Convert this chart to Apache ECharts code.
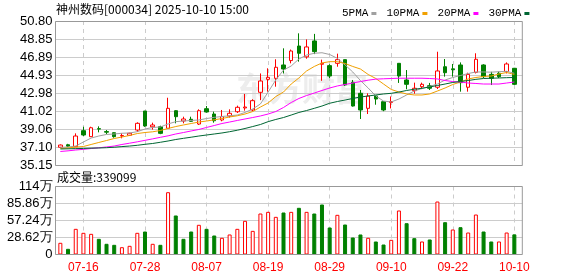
<!DOCTYPE html>
<html><head><meta charset="utf-8">
<script src="https://cdn.jsdelivr.net/npm/echarts@6/dist/echarts.min.js"></script>
<style>html,body{margin:0;padding:0;background:#fff}#c{width:578px;height:276px}</style>
</head><body><div id="c"></div>
<script>
const dates = ['07-11','07-14','07-15','07-16','07-17','07-18','07-21','07-22','07-23','07-24','07-25','07-28','07-29','07-30','07-31','08-01','08-04','08-05','08-06','08-07','08-08','08-11','08-12','08-13','08-14','08-15','08-18','08-19','08-20','08-21','08-22','08-25','08-26','08-27','08-28','08-29','09-01','09-02','09-03','09-04','09-05','09-08','09-09','09-10','09-11','09-12','09-15','09-16','09-17','09-18','09-19','09-22','09-23','09-24','09-25','09-26','09-29','09-30','10-09','10-10'];
const opens = [37.08,37.35,37.14,38.88,38.23,39.1,38.78,38.66,38.3,38.38,38.95,41.02,39.3,39.31,39.14,41.05,39.93,40.12,39.6,41.27,40.69,40.04,40.47,40.94,41.35,41.13,43.05,44.46,44.57,46.02,46.5,48.08,46.9,48.63,46.1,45.95,46.2,46.6,44.14,42.94,41.31,42.65,42.03,41.95,46.2,44.39,43.23,43.66,43.77,43.6,45.83,45.6,46.02,43.6,45.22,46.02,45.0,45.12,45.3,45.66];
const closes = [37.32,37.2,38.30,38.41,39.20,39.05,38.72,38.23,38.35,38.6,39.68,39.39,39.5,38.59,41.31,40.4,40.15,39.9,41.05,40.91,39.96,40.40,40.77,41.42,41.45,42.14,44.28,44.68,45.77,45.58,47.54,47.29,47.98,47.47,46.2,44.82,46.6,43.85,41.56,41.13,42.65,42.32,41.13,42.05,44.82,43.92,43.49,43.92,43.49,45.37,45.18,45.5,44.1,45.0,46.64,44.75,44.57,44.75,46.13,43.92];
const lows = [37.0,37.1,37.1,38.3,38.2,38.7,38.5,38.12,38.05,38.3,38.74,39.3,39.0,38.5,39.1,39.68,39.68,39.85,39.5,40.85,39.75,39.9,40.3,40.8,41.05,41.0,42.2,43.12,43.66,45.1,46.2,46.38,46.7,47.2,44.3,44.6,45.83,43.74,41.5,40.15,40.69,41.7,41.0,41.3,44.07,43.38,42.9,43.4,43.3,43.41,44.75,44.75,43.12,43.12,45.1,44.6,43.84,44.6,45.1,43.84];
const highs = [37.38,37.45,38.59,39.31,39.31,39.35,38.95,38.7,38.6,38.65,39.79,41.02,39.75,39.42,42.46,41.1,40.4,40.4,41.2,41.56,40.95,41.13,41.2,41.6,42.87,42.3,45.1,45.66,46.64,47.83,47.7,49.46,48.8,49.4,46.6,46.1,47.25,46.6,44.39,43.3,42.94,42.7,42.1,42.6,46.2,45.47,44.1,44.1,44.07,47.46,46.67,46.13,46.3,45.18,47.29,46.1,45.28,45.3,46.3,45.7];
const volumes = [197000,96000,432000,365000,348000,264000,180000,163000,123000,146000,365000,387000,180000,163000,1049000,657000,264000,387000,500000,432000,320000,281000,337000,432000,567000,398000,690000,718000,634000,707000,718000,786000,718000,690000,842000,455000,668000,505000,286000,337000,281000,219000,168000,247000,741000,527000,275000,219000,253000,892000,544000,421000,460000,370000,673000,387000,219000,219000,370000,339099];
const ma5 = [37.07,37.1,37.21,37.65,38.08,38.3,38.47,38.52,38.6,38.63,38.77,39.06,39.23,39.28,39.61,39.86,39.93,39.99,40.04,40.2,40.33,40.42,40.5,40.58,40.86,41.24,41.78,43.08,44.39,45.47,45.91,46.67,47.1,47.29,47.35,47.16,46.74,46.02,45.26,44.33,43.52,42.65,42.1,42.0,42.32,42.76,43.19,43.47,43.69,43.95,44.39,44.66,44.88,45.09,45.26,45.26,45.24,45.29,45.33,45.12];
const ma10 = [36.94,37.0,37.1,37.16,37.38,37.6,37.81,38.03,38.19,38.36,38.57,38.68,38.76,38.9,39.12,39.33,39.5,39.66,39.82,39.93,40.06,40.2,40.37,40.5,40.69,40.96,41.45,41.89,42.59,43.08,43.95,44.61,45.37,45.86,46.24,46.38,46.38,46.18,45.86,45.58,44.99,44.55,43.95,43.36,43.08,42.87,42.76,42.76,42.87,43.19,43.52,43.9,44.17,44.5,44.66,44.77,44.82,45.04,45.2,44.99];
const ma20 = [36.62,36.69,36.78,36.85,36.94,37.02,37.11,37.21,37.38,37.52,37.67,37.83,37.99,38.16,38.32,38.52,38.68,38.85,39.01,39.23,39.44,39.66,39.82,39.99,40.15,40.31,40.48,40.69,40.96,41.4,41.94,42.38,42.7,42.97,43.25,43.52,43.74,43.9,44.06,44.22,44.37,44.48,44.52,44.55,44.58,44.58,44.58,44.58,44.55,44.5,44.33,44.22,44.17,44.06,44.01,43.95,43.95,43.95,44.06,44.17];
const ma30 = [36.89,36.91,36.93,36.95,36.98,37.0,37.03,37.08,37.15,37.21,37.29,37.4,37.49,37.62,37.76,37.92,38.05,38.17,38.3,38.41,38.52,38.63,38.77,38.93,39.12,39.33,39.55,39.86,40.1,40.31,40.58,40.86,41.07,41.31,41.56,41.86,42.05,42.21,42.38,42.54,42.65,42.76,42.87,42.94,43.08,43.25,43.38,43.49,43.63,43.79,43.95,44.12,44.22,44.33,44.46,44.55,44.58,44.61,44.64,44.66];
const priceTicks = ['35.15','37.10','39.06','41.02','42.98','44.93','46.89','48.85','50.80'];
const volTicks = ['0','28.62万','57.24万','85.86万','114万'];
const markDates = ['07-16','07-28','08-07','08-19','08-29','09-10','09-22','10-10'];
const priceMin = 35.15, priceMax = 50.80, volMax = 1144800;
const lastVolume = '339099';

const RED = '#ff0000', GREEN = '#008000';
const candleData = dates.map((d, i) => [opens[i], closes[i], lows[i], highs[i]]);
const volData = volumes.map((v, i) => {
  const prev = i === 0 ? opens[0] : closes[i - 1];
  const up = closes[i] >= prev;
  return { value: v, itemStyle: up ? { color: '#ffffff', borderColor: RED, borderWidth: 1 } : { color: GREEN, borderColor: GREEN, borderWidth: 1 } };
});

const PL = 56.5, PW = 461.7, FL = 55.5, FW = 466.8;
const BAND = PW / dates.length;
const MT = 21, MH = 144, VT = 186.5, VH = 68;
const lblFont = { fontFamily: 'Liberation Sans', fontSize: 13, color: '#000' };
const dashAxis = (g) => ({
  type: 'category', gridIndex: g, data: dates, boundaryGap: false,
  axisLine: { show: false }, axisTick: { show: false }, axisLabel: { show: false },
  splitLine: { show: true, interval: (i, v) => markDates.indexOf(v) >= 0, lineStyle: { type: [4, 4], color: '#cccccc', width: 1 } }
});

const chart = echarts.init(document.getElementById('c'), null, { renderer: 'canvas' });
chart.setOption({
  animation: false,
  backgroundColor: '#fff',
  legend: {
    left: 337, top: 3, align: 'right', icon: 'rect', itemWidth: 5, itemHeight: 3, itemGap: 10,
    textStyle: { fontFamily: 'Liberation Mono', fontSize: 11, color: '#000', padding: [0, -2, 0, 0] },
    selectedMode: false,
    data: ['5PMA', '10PMA', '20PMA', '30PMA']
  },
  grid: [
    { left: PL, top: MT, width: PW, height: MH },
    { left: FL, top: MT, width: FW, height: MH },
    { left: PL, top: VT, width: PW, height: VH },
    { left: FL, top: VT, width: FW, height: VH },
    { left: PL + BAND / 2, top: MT, width: PW - BAND, height: MH },
    { left: PL + BAND / 2, top: VT, width: PW - BAND, height: VH }
  ],
  xAxis: [
    { type: 'category', gridIndex: 0, data: dates, boundaryGap: true, show: false },
    { type: 'value', gridIndex: 1, show: false, min: 0, max: 1 },
    { type: 'category', gridIndex: 2, data: dates, boundaryGap: true,
      axisLine: { show: false }, axisTick: { show: false }, splitLine: { show: false },
      axisLabel: { interval: (i, v) => markDates.indexOf(v) >= 0, color: RED, fontFamily: 'Liberation Sans', fontSize: 12, margin: 7 } },
    { type: 'value', gridIndex: 3, show: false, min: 0, max: 1 },
    dashAxis(4),
    dashAxis(5)
  ],
  yAxis: [
    { type: 'value', gridIndex: 0, min: priceMin, max: priceMax, show: false },
    { type: 'value', gridIndex: 1, min: 0, max: priceTicks.length - 1, interval: 1,
      axisLine: { show: false }, axisTick: { show: false },
      axisLabel: Object.assign({ margin: 3, formatter: v => priceTicks[v] }, lblFont),
      splitLine: { lineStyle: { color: '#cccccc', width: 1 } } },
    { type: 'value', gridIndex: 2, min: 0, max: volMax, show: false },
    { type: 'value', gridIndex: 3, min: 0, max: volTicks.length - 1, interval: 1,
      axisLine: { show: false }, axisTick: { show: false },
      axisLabel: Object.assign({ margin: 3, formatter: v => volTicks[v] }, lblFont),
      splitLine: { lineStyle: { color: '#cccccc', width: 1 } } },
    { type: 'value', gridIndex: 4, show: false, min: 0, max: 1 },
    { type: 'value', gridIndex: 5, show: false, min: 0, max: 1 }
  ],
  graphic: [
    { type: 'text', left: 56, top: 3, style: { text: '神州数码[000034] 2025-10-10 15:00', font: '12px "Noto Sans CJK SC"', fill: '#000' } },
    { type: 'text', left: 57, top: 171, style: { text: '成交量:' + lastVolume, font: '12px "Noto Sans CJK SC"', fill: '#000' } },
    { type: 'text', left: 236, top: 72, z: 0, style: { text: '东方财富', font: 'bold 33px "Noto Sans CJK SC"', fill: '#ededed' } },
    { type: 'rect', z: 100, shape: { x: FL, y: MT + 0.5, width: FW, height: MH }, style: { fill: 'none', stroke: '#999999', lineWidth: 1 } },
    { type: 'rect', z: 100, shape: { x: FL, y: VT, width: FW, height: VH }, style: { fill: 'none', stroke: '#999999', lineWidth: 1 } }
  ],
  series: [
    { name: 'K', type: 'candlestick', xAxisIndex: 0, yAxisIndex: 0, data: candleData, barWidth: 4,
      itemStyle: { color: '#ffffff', color0: GREEN, borderColor: RED, borderColor0: GREEN, borderWidth: 1 } },
    { name: '5PMA', type: 'line', xAxisIndex: 0, yAxisIndex: 0, data: ma5, symbol: 'none', color: '#a0a0a0', lineStyle: { width: 1, color: '#a0a0a0' } },
    { name: '10PMA', type: 'line', xAxisIndex: 0, yAxisIndex: 0, data: ma10, symbol: 'none', color: '#f0a000', lineStyle: { width: 1, color: '#f0a000' } },
    { name: '20PMA', type: 'line', xAxisIndex: 0, yAxisIndex: 0, data: ma20, symbol: 'none', color: '#ff00ff', lineStyle: { width: 1, color: '#ff00ff' } },
    { name: '30PMA', type: 'line', xAxisIndex: 0, yAxisIndex: 0, data: ma30, symbol: 'none', color: '#006633', lineStyle: { width: 1, color: '#006633' } },
    { name: 'VOL', type: 'bar', xAxisIndex: 2, yAxisIndex: 2, data: volData, barWidth: 4 }
  ]
});
</script></body></html>
